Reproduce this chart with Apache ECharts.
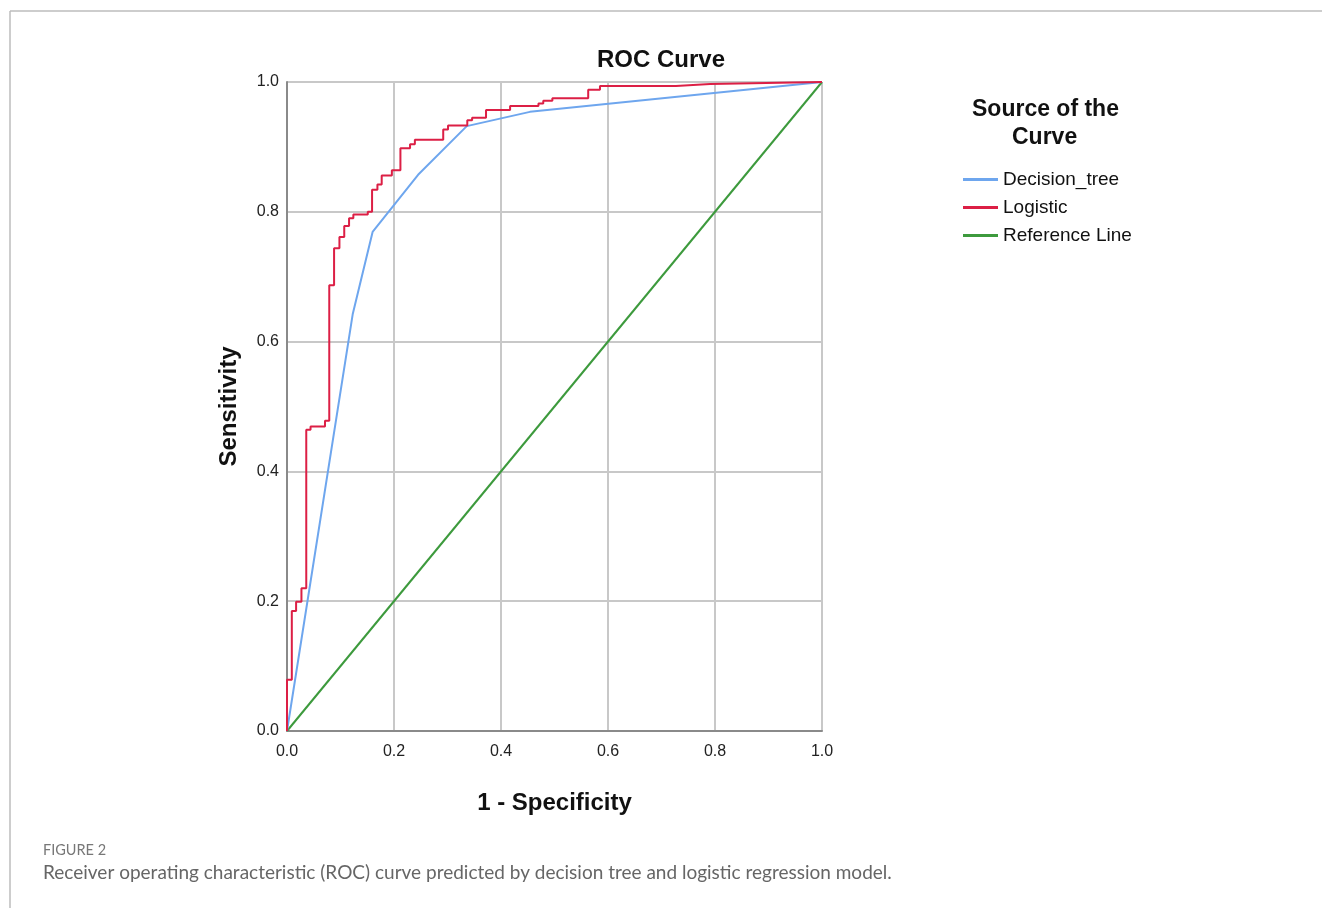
<!DOCTYPE html>
<html>
<head>
<meta charset="utf-8">
<title>ROC Curve</title>
<script src="https://cdn.jsdelivr.net/npm/echarts@6/dist/echarts.min.js"></script>
<style>
  html, body { margin: 0; padding: 0; background: #fff; }
  #chart { width: 1322px; height: 908px; }
</style>
</head>
<body>
<div id="chart"></div>
<script>
// tick labels for both axes
const ticks = [0, 0.2, 0.4, 0.6, 0.8, 1.0]

// decision tree ROC (piecewise linear)
const treeFpr = [0, 0.123, 0.160, 0.245, 0.336, 0.454, 1.0]
const treeTpr = [0, 0.643, 0.769, 0.857, 0.932, 0.954, 1.0]

// logistic ROC, points where sensitivity rises (drawn as steps)
const logFpr = [0, 0, 0.009, 0.017, 0.027, 0.036, 0.044, 0.071, 0.079, 0.088,
  0.098, 0.107, 0.116, 0.124, 0.151, 0.159, 0.169, 0.177, 0.196, 0.212,
  0.230, 0.239, 0.292, 0.301, 0.337, 0.346, 0.372, 0.417, 0.470, 0.479,
  0.496, 0.563, 0.585, 0.727, 0.791, 1.0]
const logTpr = [0, 0.079, 0.185, 0.199, 0.220, 0.464, 0.469, 0.478, 0.687, 0.744,
  0.761, 0.778, 0.790, 0.796, 0.800, 0.834, 0.842, 0.856, 0.864, 0.898,
  0.904, 0.911, 0.927, 0.933, 0.941, 0.945, 0.957, 0.963, 0.967, 0.971,
  0.975, 0.988, 0.994, 0.997, 1.0, 1.0]

// diagonal reference line
const refFpr = [0, 1]
const refTpr = [0, 1]

const seriesNames = ['Decision_tree', 'Logistic', 'Reference Line']
const colors = ['#6ea6ee', '#dc1f45', '#3d9a3d']

const font = '"Liberation Sans", Arial, sans-serif'
const capFont = 'Lato, "Open Sans", sans-serif'

function pairs(xs, ys) {
  return xs.map((x, i) => [x, ys[i]])
}

let chart = echarts.init(document.getElementById('chart'))
let option = {
  animation: false,
  textStyle: { fontFamily: font },
  grid: {
    left: 287,
    top: 82,
    width: 535,
    height: 649,
    show: true,
    borderColor: '#c8c8c8',
    borderWidth: 1
  },
  xAxis: {
    type: 'value',
    min: 0,
    max: 1,
    interval: 0.2,
    name: '1 - Specificity',
    nameLocation: 'middle',
    nameGap: 60,
    nameTextStyle: { fontSize: 24, fontWeight: 'bold', color: '#111', fontFamily: font },
    axisLine: { show: true, lineStyle: { color: '#8a8a8a', width: 2 } },
    axisTick: { show: false },
    splitLine: { show: true, lineStyle: { color: '#c8c8c8', width: 2 } },
    axisLabel: {
      margin: 13,
      fontSize: 16,
      color: '#222',
      fontFamily: font,
      formatter: v => ticks.indexOf(Math.round(v * 10) / 10) >= 0 ? v.toFixed(1) : ''
    }
  },
  yAxis: {
    type: 'value',
    min: 0,
    max: 1,
    interval: 0.2,
    name: 'Sensitivity',
    nameLocation: 'middle',
    nameGap: 46,
    nameTextStyle: { fontSize: 24, fontWeight: 'bold', color: '#111', fontFamily: font },
    axisLine: { show: true, lineStyle: { color: '#8a8a8a', width: 2 } },
    axisTick: { show: false },
    splitLine: { show: true, lineStyle: { color: '#c8c8c8', width: 2 } },
    axisLabel: {
      margin: 8,
      fontSize: 16,
      color: '#222',
      fontFamily: font,
      padding: [6, 0, 0, 0],
      formatter: v => v.toFixed(1)
    }
  },
  legend: {
    orient: 'vertical',
    left: 963,
    top: 170,
    padding: 0,
    itemWidth: 35,
    itemHeight: 3,
    itemGap: 9,
    icon: 'rect',
    data: seriesNames,
    textStyle: { fontSize: 19, color: '#111', fontFamily: font }
  },
  graphic: [
    // page frame lines
    { type: 'line', shape: { x1: 10, y1: 11, x2: 1322, y2: 11 }, style: { stroke: '#bdbdbd', lineWidth: 1.5 } },
    { type: 'line', shape: { x1: 10, y1: 11, x2: 10, y2: 908 }, style: { stroke: '#bdbdbd', lineWidth: 1.5 } },
    {
      type: 'text', left: 597, top: 48,
      style: { text: 'ROC Curve', font: 'bold 24px ' + font, fill: '#111' }
    },
    {
      type: 'text', left: 972, top: 98,
      style: { text: 'Source of the', font: 'bold 23px ' + font, fill: '#111' }
    },
    {
      type: 'text', left: 1012, top: 126,
      style: { text: 'Curve', font: 'bold 23px ' + font, fill: '#111' }
    },
    {
      type: 'text', left: 43, top: 843,
      style: { text: 'FIGURE 2', font: '14.5px ' + capFont, fill: '#777' }
    },
    {
      type: 'text', left: 43, top: 863,
      style: { text: 'Receiver operating characteristic (ROC) curve predicted by decision tree and logistic regression model.', font: '19px ' + capFont, fill: '#666' }
    }
  ],
  series: [
    {
      name: seriesNames[0],
      type: 'line',
      data: pairs(treeFpr, treeTpr),
      showSymbol: false,
      color: colors[0],
      lineStyle: { width: 2 },
      z: 3
    },
    {
      name: seriesNames[1],
      type: 'line',
      step: 'end',
      data: pairs(logFpr, logTpr),
      showSymbol: false,
      color: colors[1],
      lineStyle: { width: 2 },
      z: 4
    },
    {
      name: seriesNames[2],
      type: 'line',
      data: pairs(refFpr, refTpr),
      showSymbol: false,
      color: colors[2],
      lineStyle: { width: 2 },
      z: 2
    }
  ]
}
chart.setOption(option)
</script>
</body>
</html>
